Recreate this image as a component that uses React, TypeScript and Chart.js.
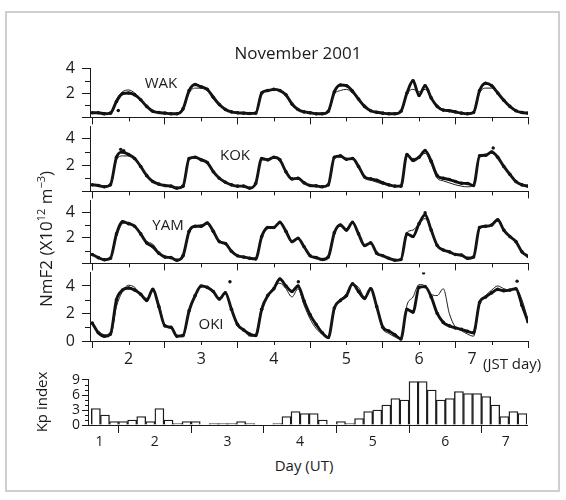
import React, { useEffect, useRef } from "react";
import { Chart, registerables } from "chart.js";

Chart.register(...registerables);

const FONT = "'Open Sans', 'DejaVu Sans', sans-serif";
const INK = "#1b1b1b";

// ---------------- data ----------------
// NmF2 (x10^12 m^-3), sampled every 2 h of JST starting 2 Nov 2001 00:00 JST
const STEP_HOURS = 2;

const wakObs = [
  0.38, 0.38, 0.3, 0.35, 1.3, 1.95, 2.0, 1.85, 1.45, 0.9, 0.5, 0.4,
  0.35, 0.3, 0.3, 0.7, 2.2, 2.7, 2.5, 2.3, 1.65, 1.05, 0.65, 0.45,
  0.38, 0.35, 0.32, 0.35, 2.0, 2.2, 2.3, 2.2, 1.85, 1.1, 0.65, 0.45,
  0.38, 0.3, 0.3, 0.5, 2.1, 2.65, 2.6, 2.15, 1.5, 0.9, 0.55, 0.42,
  0.35, 0.3, 0.3, 0.5, 2.0, 3.0, 1.8, 2.6, 1.6, 0.9, 0.6, 0.55,
  0.45, 0.35, 0.3, 0.4, 2.2, 2.8, 2.6, 2.0, 1.4, 0.9, 0.55, 0.4,
  0.35,
];
const wakModel = [
  0.4, 0.38, 0.3, 0.3, 1.5, 2.1, 2.25, 2.0, 1.5, 0.9, 0.55, 0.4,
  0.35, 0.3, 0.3, 0.6, 2.0, 2.4, 2.4, 2.2, 1.7, 1.1, 0.7, 0.5,
  0.4, 0.35, 0.3, 0.35, 1.9, 2.2, 2.3, 2.2, 1.9, 1.2, 0.7, 0.45,
  0.38, 0.3, 0.3, 0.4, 1.9, 2.2, 2.3, 2.0, 1.5, 0.9, 0.55, 0.45,
  0.35, 0.3, 0.3, 0.4, 1.9, 2.3, 2.1, 2.3, 1.6, 1.0, 0.65, 0.5,
  0.4, 0.32, 0.28, 0.35, 2.0, 2.4, 2.4, 2.0, 1.4, 0.9, 0.55, 0.4,
  0.35,
];
const wakExtra = [[8.6, 0.57]];

const kokObs = [
  0.5, 0.45, 0.35, 0.5, 2.6, 3.0, 2.8, 2.5, 1.9, 1.2, 0.75, 0.55,
  0.45, 0.4, 0.25, 0.4, 2.5, 2.6, 2.4, 2.2, 1.5, 1.0, 0.7, 0.5,
  0.4, 0.4, 0.25, 0.6, 2.5, 2.4, 2.6, 2.4, 1.5, 0.95, 1.0, 0.65,
  0.45, 0.42, 0.35, 0.5, 2.6, 2.7, 2.45, 2.5, 1.9, 1.1, 0.95, 0.85,
  0.65, 0.5, 0.4, 0.4, 2.8, 2.35, 2.6, 3.1, 2.3, 1.2, 1.0, 0.9,
  0.75, 0.62, 0.6, 0.45, 2.7, 2.75, 3.0, 2.6, 1.9, 1.3, 0.75, 0.5,
  0.4,
];
const kokModel = [
  0.5, 0.45, 0.35, 0.45, 2.4, 2.7, 2.7, 2.5, 1.9, 1.2, 0.75, 0.55,
  0.45, 0.4, 0.25, 0.4, 2.4, 2.6, 2.4, 2.2, 1.5, 1.0, 0.7, 0.5,
  0.4, 0.4, 0.25, 0.5, 2.4, 2.4, 2.6, 2.4, 1.5, 0.95, 0.95, 0.6,
  0.45, 0.42, 0.35, 0.5, 2.5, 2.6, 2.45, 2.5, 1.9, 1.0, 0.85, 0.7,
  0.55, 0.45, 0.35, 0.4, 2.7, 2.5, 2.6, 2.9, 2.1, 1.0, 0.8, 0.65,
  0.5, 0.4, 0.35, 0.45, 2.6, 2.8, 2.9, 2.6, 1.9, 1.3, 0.75, 0.5,
  0.4,
];
const kokExtra = [[9.4, 3.2], [10.4, 3.1], [132.5, 3.3]];

const yamObs = [
  0.7, 0.45, 0.28, 0.4, 2.3, 3.25, 3.1, 2.9, 2.3, 1.6, 1.3, 0.8,
  0.5, 0.45, 0.25, 0.6, 2.5, 2.9, 2.9, 3.15, 2.5, 1.7, 1.55, 0.95,
  0.6, 0.5, 0.4, 0.35, 2.1, 2.8, 2.8, 3.2, 2.5, 1.7, 1.95, 1.3,
  0.6, 0.45, 0.3, 0.5, 2.4, 3.0, 2.6, 3.2, 2.3, 1.4, 1.6, 0.8,
  0.6, 0.4, 0.25, 0.3, 2.3, 2.1, 3.1, 3.8, 2.6, 1.4, 1.05, 0.9,
  0.7, 0.65, 0.4, 0.5, 2.8, 2.9, 3.0, 3.4, 2.6, 2.1, 1.7, 0.9,
  0.55,
];
const yamModel = [
  0.7, 0.45, 0.3, 0.4, 2.1, 3.1, 3.2, 2.9, 2.3, 1.7, 1.5, 0.85,
  0.5, 0.45, 0.25, 0.6, 2.4, 2.9, 3.0, 3.1, 2.5, 1.7, 1.5, 0.95,
  0.6, 0.5, 0.4, 0.35, 2.0, 2.7, 2.8, 3.2, 2.5, 1.7, 1.9, 1.3,
  0.6, 0.45, 0.3, 0.5, 2.3, 3.0, 2.7, 3.2, 2.3, 1.4, 1.6, 0.8,
  0.55, 0.4, 0.25, 0.3, 2.4, 2.6, 3.1, 3.5, 2.6, 1.4, 1.0, 0.85,
  0.65, 0.6, 0.35, 0.5, 2.7, 2.9, 3.0, 3.3, 2.6, 2.1, 1.6, 0.9,
  0.55,
];
const yamExtra = [[110, 3.95]];

const okiObs = [
  1.3, 0.6, 0.35, 0.5, 3.0, 3.7, 3.85, 3.7, 3.4, 2.95, 3.75, 2.5,
  1.1, 1.0, 0.35, 0.4, 2.2, 3.3, 4.0, 3.9, 3.6, 3.05, 3.5, 2.3,
  1.2, 0.8, 0.5, 0.4, 2.3, 3.3, 3.8, 4.5, 4.0, 3.6, 4.0, 2.9,
  1.9, 1.2, 0.6, 0.25, 2.4, 2.95, 3.3, 4.15, 3.6, 3.1, 3.8, 2.5,
  1.0, 0.72, 0.45, 0.15, 2.3, 2.1, 3.9, 3.95, 3.2, 2.0, 1.35, 1.1,
  0.95, 0.85, 0.7, 0.6, 2.8, 3.2, 3.5, 3.75, 3.65, 3.7, 3.8, 2.6,
  1.4,
];
const okiModel = [
  1.2, 0.7, 0.45, 0.4, 2.5, 3.6, 4.05, 3.9, 3.4, 3.1, 3.6, 2.7,
  1.1, 0.9, 0.4, 0.3, 2.3, 3.4, 4.0, 3.9, 3.5, 3.1, 3.6, 2.3,
  1.1, 0.8, 0.35, 0.45, 2.5, 3.3, 3.9, 4.2, 3.8, 3.2, 3.8, 2.6,
  1.6, 0.9, 0.5, 0.2, 2.3, 3.0, 3.4, 4.1, 3.9, 3.2, 3.8, 2.4,
  0.9, 0.55, 0.3, 0.15, 2.6, 3.2, 4.1, 4.0, 3.4, 3.3, 3.8, 2.0,
  1.0, 0.75, 0.5, 0.35, 2.7, 3.3, 3.7, 4.0, 3.8, 3.7, 3.8, 3.0,
  1.5,
];
const okiExtra = [[45.5, 4.3], [68.1, 4.3], [109.5, 4.95], [140.4, 4.35]];

// Kp index, 3-hourly, starting 1 Nov 2001 15 UT (= 2 Nov 00 JST)
const kpValues = [
  3.3, 2.0, 0.7, 0.7, 1.0, 1.7, 0.7, 3.3,
  1.0, 0.3, 0.7, 0.7, 0, 0.3, 0.3, 0.3,
  0.7, 0.3, 0, 0, 0.3, 1.7, 2.7, 2.3,
  2.3, 1.0, 0, 0.7, 0.3, 1.3, 2.7, 3.0,
  4.0, 5.3, 5.0, 8.7, 8.7, 7.0, 5.0, 5.3,
  6.7, 6.3, 6.3, 5.7, 4.0, 1.7, 2.7, 2.3,
];
const KP_STEP_HOURS = 3;

// axes (hours since 2 Nov 00 JST)
const jstDayLabels = ["2", "3", "4", "5", "6", "7"];
const jstLabelHours = [12, 36, 60, 84, 108, 125.5];
const jstBoundaryHours = [0, 24, 48, 72, 96, 120, 144];
const jstNoonHours = [12, 36, 60, 84, 108, 132];
const utDayLabels = ["1", "2", "3", "4", "5", "6", "7"];
const utLabelHours = [2.7, 21, 45, 69, 93, 117, 137];
const utDayStartHours = [9, 33, 57, 81, 105, 129];
const nmTickValues = [0, 1, 2, 3, 4];
const nmMinorValues = [1, 3];
const kpTickValues = [0, 3, 6, 9];
const kpMinorValues = [1, 2, 4, 5, 7, 8];

// ---------------- layout ----------------
const CANVAS_LEFT = 38;
const CANVAS_W = 502;
const PLOT_LEFT = 90;
const PLOT_RIGHT = 528;
const TOP_PAD = 12;

const panels = [
  { name: "WAK", obs: wakObs, model: wakModel, extra: wakExtra, top: 64, bottom: 122, yMax: 4, lx: 161, ly: 82, last: false },
  { name: "KOK", obs: kokObs, model: kokModel, extra: kokExtra, top: 122, bottom: 196, yMax: 4.93, lx: 235, ly: 154, last: false },
  { name: "YAM", obs: yamObs, model: yamModel, extra: yamExtra, top: 196, bottom: 268, yMax: 4.9, lx: 168, ly: 224, last: false },
  { name: "OKI", obs: okiObs, model: okiModel, extra: okiExtra, top: 268, bottom: 341, yMax: 4.97, lx: 211, ly: 323, last: true },
];

function minorTicks(xVals: number[], xLen: number, yVals: number[], yLen: number) {
  return {
    id: "minorTicks",
    afterDraw(chart: any) {
      const { ctx, chartArea, scales } = chart;
      ctx.save();
      ctx.strokeStyle = INK;
      ctx.lineWidth = 1;
      ctx.beginPath();
      xVals.forEach((v) => {
        const px = Math.round(scales.x.getPixelForValue(v)) + 0.5;
        ctx.moveTo(px, chartArea.bottom);
        ctx.lineTo(px, chartArea.bottom + xLen);
      });
      yVals.forEach((v) => {
        const py = Math.round(scales.y.getPixelForValue(v)) + 0.5;
        ctx.moveTo(chartArea.left, py);
        ctx.lineTo(chartArea.left - yLen, py);
      });
      ctx.stroke();
      ctx.restore();
    },
  };
}

function nmConfig(p: any) {
  const hours = p.obs.map((_: number, i: number) => i * STEP_HOURS);
  const xTicks = p.last
    ? [...jstBoundaryHours, ...jstLabelHours.filter((h) => !jstBoundaryHours.includes(h))].sort((a, b) => a - b)
    : jstBoundaryHours;
  const yAxisW = PLOT_LEFT - CANVAS_LEFT;
  return {
    type: "line",
    data: {
      datasets: [
        {
          data: p.model.map((v: number, i: number) => ({ x: hours[i], y: v })),
          borderColor: INK,
          borderWidth: 1,
          pointRadius: 0,
          cubicInterpolationMode: "monotone",
        },
        {
          data: p.obs.map((v: number, i: number) => ({ x: hours[i], y: v })),
          borderColor: "#111",
          borderWidth: 2.9,
          pointRadius: 1.8,
          pointBorderWidth: 0,
          pointBackgroundColor: "#111",
          cubicInterpolationMode: "monotone",
        },
        {
          data: p.extra.map((d: number[]) => ({ x: d[0], y: d[1] })),
          showLine: false,
          pointRadius: 1.7,
          pointBorderWidth: 0,
          pointBackgroundColor: "#111",
        },
      ],
    },
    options: {
      animation: false,
      responsive: false,
      events: [],
      layout: { padding: { top: TOP_PAD, right: CANVAS_LEFT + CANVAS_W - PLOT_RIGHT, bottom: 0, left: 0 } },
      plugins: { legend: { display: false }, tooltip: { enabled: false } },
      scales: {
        x: {
          type: "linear",
          min: -0.75,
          max: 144,
          afterBuildTicks: (s: any) => {
            s.ticks = xTicks.map((v) => ({ value: v }));
          },
          afterFit: (s: any) => {
            s.height = p.last ? 32 : 12;
          },
          grid: {
            drawOnChartArea: false,
            tickLength: 7,
            tickWidth: 1,
            tickColor: (c: any) => (c.tick && jstBoundaryHours.includes(c.tick.value) ? INK : "rgba(0,0,0,0)"),
          },
          border: { display: true, color: INK, width: 1 },
          ticks: {
            display: p.last,
            autoSkip: false,
            maxRotation: 0,
            padding: 2,
            color: INK,
            font: { family: FONT, size: 16 },
            callback: (v: number) => {
              const k = jstLabelHours.indexOf(v);
              return k >= 0 ? jstDayLabels[k] : "";
            },
          },
        },
        y: {
          type: "linear",
          min: 0,
          max: p.yMax,
          afterBuildTicks: (s: any) => {
            s.ticks = nmTickValues.map((v) => ({ value: v }));
          },
          afterFit: (s: any) => {
            s.width = yAxisW;
          },
          grid: {
            drawOnChartArea: false,
            tickLength: 8,
            tickWidth: 1,
            tickColor: (c: any) => (c.tick && nmMinorValues.includes(c.tick.value) ? "rgba(0,0,0,0)" : INK),
          },
          border: { display: true, color: INK, width: 1 },
          ticks: {
            autoSkip: false,
            padding: 7,
            color: INK,
            font: { family: FONT, size: 16 },
            callback: (v: number) => (v === 2 || v === 4 || (v === 0 && p.last) ? String(v) : ""),
          },
        },
      },
    },
    plugins: [minorTicks(jstNoonHours, 4, nmMinorValues, 5)],
  };
}

function kpConfig() {
  const xTicks = [...utDayStartHours, ...utLabelHours].sort((a, b) => a - b);
  return {
    type: "bar",
    data: {
      datasets: [
        {
          data: kpValues.map((v, i) => ({ x: KP_STEP_HOURS * i + KP_STEP_HOURS / 2, y: v })),
          backgroundColor: "#ffffff",
          borderColor: INK,
          borderWidth: 1.4,
          barPercentage: 1,
          categoryPercentage: 1,
        },
      ],
    },
    options: {
      animation: false,
      responsive: false,
      events: [],
      layout: { padding: { top: TOP_PAD, right: CANVAS_LEFT + CANVAS_W - 527, bottom: 0, left: 0 } },
      plugins: { legend: { display: false }, tooltip: { enabled: false } },
      scales: {
        x: {
          type: "linear",
          offset: false,
          min: -1.1,
          max: 144,
          afterBuildTicks: (s: any) => {
            s.ticks = xTicks.map((v) => ({ value: v }));
          },
          afterFit: (s: any) => {
            s.height = 26;
          },
          grid: {
            offset: false,
            drawOnChartArea: false,
            tickLength: 8,
            tickColor: (c: any) => (c.tick && utDayStartHours.includes(c.tick.value) ? INK : "rgba(0,0,0,0)"),
          },
          border: { display: true, color: INK, width: 1 },
          ticks: {
            autoSkip: false,
            maxRotation: 0,
            padding: 1,
            color: INK,
            font: { family: FONT, size: 14 },
            callback: (v: number) => {
              const k = utLabelHours.indexOf(v);
              return k >= 0 ? utDayLabels[k] : "";
            },
          },
        },
        y: {
          type: "linear",
          min: 0,
          max: 9.2,
          afterBuildTicks: (s: any) => {
            s.ticks = kpTickValues.map((v) => ({ value: v }));
          },
          afterFit: (s: any) => {
            s.width = 88 - CANVAS_LEFT;
          },
          grid: { drawOnChartArea: false, tickLength: 6, tickColor: INK },
          border: { display: true, color: INK, width: 1 },
          ticks: {
            autoSkip: false,
            padding: 2,
            color: INK,
            font: { family: FONT, size: 14 },
          },
        },
      },
    },
    plugins: [minorTicks([], 0, kpMinorValues, 3)],
  };
}

function ChartBox({ left, top, width, height, make }: any) {
  const ref = useRef<HTMLCanvasElement | null>(null);
  useEffect(() => {
    const cfg = make();
    const chart = new Chart(ref.current as HTMLCanvasElement, cfg as any);
    return () => chart.destroy();
  }, []);
  return (
    <canvas
      ref={ref}
      width={width}
      height={height}
      style={{ position: "absolute", left, top, width, height }}
    />
  );
}

const textBase: React.CSSProperties = {
  position: "absolute",
  fontFamily: FONT,
  color: INK,
  whiteSpace: "nowrap",
  lineHeight: 1,
  transform: "translate(-50%, -50%)",
};

export default function App() {
  return (
    <div style={{ position: "absolute", left: 0, top: 0, width: 566, height: 500, background: "#fff", overflow: "hidden" }}>
      <div
        style={{
          position: "absolute",
          left: 5,
          top: 11,
          width: 551,
          height: 477,
          border: "2px solid #cfcfcf",
        }}
      />
      {panels.map((p) => (
        <ChartBox
          key={p.name}
          left={CANVAS_LEFT}
          top={p.top - TOP_PAD}
          width={CANVAS_W}
          height={p.bottom - p.top + TOP_PAD + (p.last ? 32 : 12)}
          make={() => nmConfig(p)}
        />
      ))}
      <ChartBox left={CANVAS_LEFT} top={379 - TOP_PAD} width={CANVAS_W} height={46 + TOP_PAD + 26} make={kpConfig} />

      <div style={{ ...textBase, left: 298, top: 52, fontSize: 17 }}>November 2001</div>
      {panels.map((p) => (
        <div key={"l" + p.name} style={{ ...textBase, left: p.lx, top: p.ly, fontSize: 15 }}>
          {p.name}
        </div>
      ))}
      <div style={{ ...textBase, transform: "none", left: 483, top: 356, fontSize: 15 }}>(JST day)</div>
      <div style={{ ...textBase, left: 45, top: 239, fontSize: 17, transform: "translate(-50%, -50%) rotate(-90deg)" }}>
        NmF2 (X10<span style={{ fontSize: 11, position: "relative", top: -7 }}>12</span> m
        <span style={{ fontSize: 11, position: "relative", top: -7 }}>−3</span>)
      </div>
      <div style={{ ...textBase, left: 41, top: 402, fontSize: 15, transform: "translate(-50%, -50%) rotate(-90deg)" }}>
        Kp index
      </div>
      <div style={{ ...textBase, left: 304, top: 465, fontSize: 15 }}>Day (UT)</div>
    </div>
  );
}
